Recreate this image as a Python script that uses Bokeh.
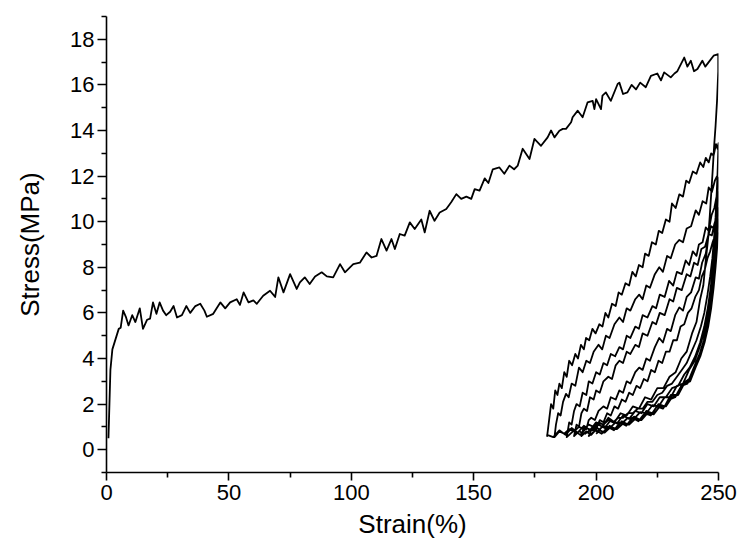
from bokeh.plotting import figure
from bokeh.models import Range1d, FixedTicker
from bokeh.embed import file_html
from bokeh.resources import INLINE

# ---- data (strain %, stress MPa) ----
load_x = [0.8, 1.2, 1.6, 2.4, 3.7, 5.0, 5.8, 6.8, 8.0, 9.0, 10.5, 11.8, 13.6, 14.9, 16.6, 17.8,
          19.0, 20.4, 21.7, 23.1, 24.4, 26.0, 27.4, 28.8, 30.8, 32.6, 34.2, 36.3, 38.3, 40.0,
          41.0, 43.6, 45.0, 46.5, 48.5, 50.5, 53.2, 54.5, 56.0, 58.0, 60.0, 61.4, 64.0, 66.8,
          68.9, 70.2, 72.3, 75.0, 77.7, 79.0, 81.0, 83.0, 85.2, 87.9, 90.0, 92.6, 95.4, 97.4,
          100.8, 103.5, 106.2, 108.3, 110.3, 112.3, 114.4, 116.4, 117.8, 119.8, 121.8, 123.9,
          125.9, 128.6, 130.0, 132.0, 134.0, 136.1, 138.8, 140.8, 142.9, 144.9, 147.0, 149.0,
          150.4, 152.4, 154.5, 156.0, 157.8, 160.5, 162.5, 164.6, 166.5, 168.0, 170.0, 172.8,
          174.8, 177.5, 180.2, 181.6, 183.0, 185.0, 186.4, 187.7, 189.8, 190.4, 192.5, 194.5,
          196.5, 198.6, 199.3, 200.0, 202.0, 202.6, 204.0, 206.0, 208.8, 209.5, 211.0, 212.8,
          214.5, 216.3, 218.0, 220.3, 222.4, 225.0, 226.5, 227.8, 230.5, 232.0, 233.2, 236.0,
          237.3, 238.7, 240.0, 241.4, 243.4, 244.6, 246.0, 248.0, 249.9]
load_y = [0.5, 2.0, 3.5, 4.4, 4.85, 5.3, 5.35, 6.1, 5.8, 5.45, 5.9, 5.6, 6.2, 5.3, 5.7, 5.75,
          6.46, 5.96, 6.46, 6.1, 5.9, 6.05, 6.3, 5.8, 5.9, 6.3, 6.0, 6.3, 6.4, 6.1,
          5.83, 5.96, 6.2, 6.46, 6.2, 6.46, 6.6, 6.35, 6.9, 6.46, 6.55, 6.4, 6.75, 6.97,
          6.7, 7.56, 6.9, 7.7, 7.05, 7.34, 7.56, 7.27, 7.6, 7.78, 7.6, 7.56, 8.14, 7.78,
          8.14, 8.2, 8.65, 8.43, 8.5, 9.24, 8.73, 9.24, 8.8, 9.46, 9.39, 9.97,
          9.68, 10.1, 9.53, 10.48, 10.04, 10.4, 10.56, 10.85, 11.21, 11.0, 11.1, 11.0,
          11.43, 11.36, 11.9, 11.7, 12.3, 12.38, 12.1, 12.46, 12.3, 12.46, 13.2, 12.75,
          13.63, 13.33, 13.7, 14.0, 13.7, 13.99, 14.07, 14.07, 14.36, 14.58, 14.87, 14.58,
          15.23, 15.3, 14.94, 15.38, 14.94, 15.53, 15.67, 15.3, 16.04, 16.1, 15.6, 15.67,
          16.0, 15.8, 16.1, 15.9, 16.4, 16.5, 16.2, 16.55, 16.33, 16.5, 16.6, 17.2,
          16.8, 17.06, 16.6, 16.7, 17.06, 16.8, 17.0, 17.28, 17.35]

u0_x = [249.9, 249.4, 248.8, 248.2, 247.6, 247.0, 246.4, 245.7, 244.8, 243.8, 242.5, 241.0,
        239.2, 237.0, 234.8, 232.5, 230.0, 227.5, 225.0, 222.5, 220.0, 217.5, 215.0, 212.5,
        210.0, 207.5, 205.0, 202.5, 200.0, 197.5, 195.0, 192.5, 190.0, 187.5, 185.0, 182.5, 180.0]
u0_y = [16.6, 15.3, 14.2, 13.3, 12.2, 11.2, 10.2, 9.2, 8.3, 7.2, 6.6, 5.6,
        5.1, 4.3, 4.0, 3.4, 3.2, 2.7, 2.7, 2.2, 2.3, 1.8, 1.9, 1.5,
        1.6, 1.2, 1.4, 1.0, 1.2, 0.85, 1.05, 0.75, 0.95, 0.65, 0.85, 0.55, 0.65]

r1_x = [180.0, 180.8, 181.6, 182.5, 183.3, 184.2, 185.0, 186.0, 187.0, 188.0, 189.0, 190.2,
        191.5, 192.6, 193.8, 195.0, 195.9, 197.2, 198.5, 199.8, 201.3, 202.6, 203.8, 205.0,
        206.5, 208.0, 209.2, 210.5, 212.0, 213.5, 214.8, 216.2, 217.5, 219.0, 220.0, 221.5,
        222.8, 224.4, 225.6, 227.0, 228.5, 230.0, 231.0, 232.5, 234.0, 235.5, 236.8, 238.0,
        239.5, 241.0, 242.5, 243.8, 244.8, 246.0, 247.0, 248.0, 249.0, 249.6, 250.0]
r1_y = [0.6, 1.3, 2.0, 1.8, 2.6, 2.4, 2.9, 2.7, 3.4, 3.2, 3.9, 3.7,
        4.2, 4.0, 4.6, 4.4, 4.9, 4.8, 5.3, 5.1, 5.5, 5.4, 6.0, 5.8,
        6.4, 6.3, 6.9, 6.8, 7.3, 7.2, 7.8, 7.6, 8.1, 8.0, 8.6, 8.5,
        9.1, 9.0, 9.6, 9.5, 10.1, 10.0, 10.8, 10.6, 11.2, 11.1, 11.8, 11.7,
        12.2, 12.1, 12.6, 12.4, 12.8, 12.6, 13.0, 12.9, 13.4, 13.2, 13.45]

u1_x = [249.7, 249.3, 248.8, 248.2, 247.5, 246.6, 245.5, 244.2, 242.8, 241.0, 239.0, 237.0,
        235.0, 233.0, 231.0, 229.0, 227.0, 225.0, 223.0, 221.0, 219.0, 217.0, 215.0, 213.0,
        211.0, 209.0, 207.0, 205.0, 203.0, 201.0, 199.0, 197.0, 195.0, 193.0, 191.0, 189.0,
        187.0, 185.0, 183.0]
u1_y = [12.4, 11.3, 10.2, 9.3, 8.4, 7.6, 6.8, 6.0, 5.4, 4.8, 4.3, 3.8,
        3.5, 3.2, 2.9, 2.8, 2.5, 2.4, 2.1, 2.1, 1.8, 1.8, 1.6, 1.6,
        1.4, 1.4, 1.2, 1.3, 1.1, 1.2, 1.0, 1.1, 0.9, 1.0, 0.8, 0.9,
        0.7, 0.8, 0.55]

r2_x = [183.6, 184.5, 185.5, 186.5, 187.7, 188.8, 190.0, 191.5, 193.0, 194.5, 196.0, 197.5,
        199.0, 201.0, 202.5, 204.0, 205.5, 207.5, 209.5, 211.0, 212.5, 214.0, 216.0, 217.6,
        219.0, 220.5, 222.0, 224.0, 225.8, 227.3, 229.0, 230.5, 232.3, 234.0, 235.5, 237.0,
        238.8, 240.7, 242.0, 243.5, 245.0, 246.0, 247.3, 248.5, 249.4, 250.0]
r2_y = [1.1, 1.6, 1.5, 2.1, 2.45, 2.3, 2.9, 2.8, 3.6, 3.4, 3.9, 3.8,
        4.3, 4.6, 4.4, 5.0, 4.9, 5.5, 5.8, 5.6, 6.2, 6.1, 6.6, 6.8,
        6.6, 7.2, 7.1, 7.7, 8.0, 7.8, 8.5, 8.4, 9.0, 9.2, 9.1, 9.7,
        9.8, 10.5, 10.3, 10.9, 10.8, 11.5, 11.3, 11.8, 12.0, 11.9]

u2_x = [249.6, 249.1, 248.5, 247.7, 246.8, 245.6, 244.2, 242.5, 240.5, 238.2, 236.0, 233.5,
        231.0, 228.5, 226.0, 223.5, 221.0, 218.5, 216.0, 213.5, 211.0, 208.5, 206.0, 203.5,
        201.0, 198.5, 196.0, 193.5, 191.0, 188.0]
u2_y = [11.0, 10.0, 9.0, 8.0, 7.1, 6.2, 5.4, 4.7, 4.1, 3.6, 3.3, 2.8,
        2.7, 2.3, 2.3, 1.9, 2.0, 1.6, 1.7, 1.35, 1.5, 1.15, 1.3, 0.95,
        1.1, 0.85, 0.95, 0.65, 0.85, 0.55]

r3_x = [189.0, 190.0, 191.0, 192.0, 193.3, 194.5, 196.0, 197.0, 198.5, 200.0, 201.5, 203.0,
        204.5, 206.0, 207.8, 209.5, 211.0, 212.5, 214.0, 216.0, 217.5, 219.0, 221.0, 223.0,
        224.5, 226.0, 228.0, 229.8, 231.5, 233.0, 235.0, 236.6, 238.0, 239.5, 241.0, 242.0,
        243.5, 244.8, 246.0, 247.2, 248.3, 249.2, 250.0]
r3_y = [1.2, 1.1, 1.7, 2.0, 1.9, 2.5, 2.4, 3.0, 2.9, 3.4, 3.3, 3.8,
        3.7, 4.2, 4.1, 4.5, 4.4, 5.0, 4.9, 5.4, 5.3, 5.9, 5.8, 6.3,
        6.2, 6.8, 6.7, 7.4, 7.2, 7.8, 7.7, 8.3, 8.1, 8.7, 8.5, 9.0,
        9.1, 9.75, 9.6, 10.3, 10.6, 11.1, 11.3]

u3_x = [249.6, 249.1, 248.4, 247.6, 246.6, 245.4, 244.0, 242.3, 240.3, 238.0, 235.5, 233.0,
        230.5, 228.0, 225.5, 223.0, 220.5, 218.0, 215.5, 213.0, 210.5, 208.0, 205.5, 203.0,
        200.5, 198.0, 195.5, 193.0, 191.0]
u3_y = [10.4, 9.5, 8.5, 7.6, 6.7, 5.9, 5.1, 4.5, 3.9, 3.5, 2.9, 2.8,
        2.3, 2.3, 1.9, 1.95, 1.6, 1.65, 1.35, 1.4, 1.15, 1.2, 0.95, 1.05,
        0.8, 0.9, 0.7, 0.8, 0.6]

r4_x = [192.0, 193.0, 194.0, 195.0, 196.3, 197.5, 199.0, 200.0, 201.5, 203.0, 205.0, 206.5,
        208.0, 209.5, 211.0, 212.5, 214.0, 216.0, 217.5, 219.0, 221.0, 223.0, 224.5, 226.0,
        228.0, 230.0, 231.5, 233.0, 235.0, 237.0, 238.5, 240.0, 241.5, 243.0, 244.5, 245.8,
        247.0, 248.2, 249.2, 250.0]
r4_y = [1.1, 1.0, 1.6, 1.8, 1.7, 2.3, 2.2, 2.6, 2.5, 3.0, 3.2, 3.1,
        3.7, 3.9, 3.8, 4.3, 4.2, 4.6, 4.5, 5.1, 5.0, 5.6, 5.5, 6.0,
        5.9, 6.6, 6.5, 7.1, 7.0, 7.7, 7.6, 8.2, 8.1, 8.8, 8.9, 9.4,
        9.8, 9.7, 10.3, 10.6]

u4_x = [249.6, 249.1, 248.4, 247.6, 246.6, 245.4, 244.0, 242.3, 240.3, 238.0, 235.5, 233.0,
        230.5, 228.0, 225.5, 223.0, 220.5, 218.0, 215.5, 213.0, 210.5, 208.0, 205.5, 203.0,
        200.5, 198.0, 196.0, 194.0]
u4_y = [9.8, 9.0, 8.1, 7.2, 6.3, 5.5, 4.8, 4.2, 3.7, 3.1, 2.9, 2.4,
        2.4, 1.9, 2.0, 1.6, 1.7, 1.3, 1.45, 1.1, 1.25, 0.9, 1.05, 0.75,
        0.95, 0.65, 0.8, 0.6]

r5_x = [195.0, 196.0, 197.0, 198.0, 199.5, 201.0, 203.0, 204.5, 206.0, 208.0, 209.5, 211.0,
        212.5, 214.0, 216.0, 217.6, 219.0, 220.5, 222.0, 224.0, 225.8, 227.3, 229.0, 230.5,
        232.3, 234.0, 235.5, 237.0, 238.8, 240.7, 242.0, 243.3, 244.8, 246.0, 247.3, 248.3,
        249.2, 250.0]
r5_y = [1.0, 0.9, 1.3, 1.4, 1.3, 1.7, 1.9, 1.8, 2.3, 2.2, 2.6, 2.5,
        3.0, 2.9, 3.4, 3.6, 3.5, 4.0, 3.9, 4.5, 4.9, 4.7, 5.3, 5.2,
        5.9, 6.24, 6.1, 6.7, 6.9, 7.56, 7.5, 8.2, 8.6, 9.46, 9.4, 9.9,
        10.2, 10.1]

u5_x = [249.6, 249.0, 248.3, 247.4, 246.3, 245.0, 243.5, 241.7, 239.6, 237.3, 234.8, 232.3,
        229.8, 227.3, 224.8, 222.3, 219.8, 217.3, 214.8, 212.3, 209.8, 207.3, 204.8, 202.3,
        199.8, 197.0]
u5_y = [9.3, 8.5, 7.6, 6.7, 5.9, 5.1, 4.5, 3.9, 3.5, 2.9, 2.8, 2.3,
        2.2, 1.8, 1.9, 1.5, 1.6, 1.25, 1.4, 1.05, 1.2, 0.85, 1.0, 0.7,
        0.85, 0.6]

r6_x = [198.5, 200.0, 201.5, 203.0, 204.5, 206.0, 207.5, 209.0, 210.5, 212.0, 213.5, 215.0,
        216.5, 218.0, 219.5, 221.0, 222.5, 224.0, 225.5, 227.0, 228.5, 230.0, 231.5, 233.0,
        234.5, 236.0, 237.5, 239.0, 240.5, 242.0, 243.2, 244.4, 245.5, 246.6, 247.6, 248.6,
        249.5]
r6_y = [1.0, 0.9, 1.3, 1.2, 1.6, 1.5, 1.9, 1.8, 2.2, 2.1, 2.5, 2.4,
        2.8, 2.7, 3.1, 3.0, 3.5, 3.4, 3.9, 3.8, 4.3, 4.3, 4.8, 4.8,
        5.4, 5.5, 6.0, 6.2, 6.7, 7.0, 7.6, 7.9, 8.4, 8.7, 9.1, 9.4,
        9.8]

u6_x = [249.8, 249.4, 248.8, 248.0, 247.0, 245.8, 244.3, 242.6, 240.6, 238.4, 236.0, 233.5,
        231.0, 228.5, 226.0, 223.5, 221.0, 218.5, 216.0, 213.5, 211.0, 208.5, 206.0, 203.5,
        201.5, 200.0]
u6_y = [9.5, 8.8, 8.0, 7.1, 6.2, 5.4, 4.7, 4.1, 3.6, 3.0, 2.9, 2.4,
        2.3, 1.9, 1.9, 1.55, 1.6, 1.3, 1.35, 1.1, 1.15, 0.9, 1.0, 0.75,
        0.85, 0.7]

x_ticks = [0, 50, 100, 150, 200, 250]
x_minor = [25, 75, 125, 175, 225]
y_ticks = [0, 2, 4, 6, 8, 10, 12, 14, 16, 18]
y_minor = [-1, 1, 3, 5, 7, 9, 11, 13, 15, 17, 19]

segments_x = [load_x, u0_x, r1_x, u1_x, r2_x, u2_x, r3_x, u3_x, r4_x, u4_x, r5_x, u5_x, r6_x, u6_x]
segments_y = [load_y, u0_y, r1_y, u1_y, r2_y, u2_y, r3_y, u3_y, r4_y, u4_y, r5_y, u5_y, r6_y, u6_y]
xs = [v for seg in segments_x for v in seg]
ys = [v for seg in segments_y for v in seg]

p = figure(width=738, height=543, output_backend="svg", toolbar_location=None,
           x_range=Range1d(0, 250), y_range=Range1d(-1, 19),
           min_border_left=106, min_border_right=20, min_border_top=16, min_border_bottom=71)
p.outline_line_color = None
p.xgrid.visible = False
p.ygrid.visible = False
p.background_fill_color = "white"
p.border_fill_color = "white"

p.line(xs, ys, line_color="black", line_width=1.8, line_join="round")

p.xaxis.ticker = FixedTicker(ticks=x_ticks, minor_ticks=x_minor)
p.yaxis.ticker = FixedTicker(ticks=y_ticks, minor_ticks=y_minor)
p.xaxis.axis_label = "Strain(%)"
p.yaxis.axis_label = "Stress(MPa)"

for ax in (p.xaxis, p.yaxis):
    ax.axis_line_color = "black"
    ax.axis_line_width = 1.6
    ax.major_tick_line_color = "black"
    ax.major_tick_line_width = 1.6
    ax.minor_tick_line_color = "black"
    ax.minor_tick_line_width = 1.6
    ax.major_tick_in = 0
    ax.minor_tick_in = 0
    ax.major_label_text_font = "Liberation Sans"
    ax.major_label_text_font_size = "22px"
    ax.major_label_text_color = "black"
    ax.axis_label_text_font = "Liberation Sans"
    ax.axis_label_text_font_size = "26px"
    ax.axis_label_text_font_style = "normal"
    ax.axis_label_text_color = "black"

p.xaxis.major_tick_out = 8
p.xaxis.minor_tick_out = 5
p.yaxis.major_tick_out = 9
p.yaxis.minor_tick_out = 5
p.xaxis.major_label_standoff = 4
p.yaxis.major_label_standoff = 3
p.xaxis.axis_label_standoff = 6
p.yaxis.axis_label_standoff = 22

open("out.html", "w").write(file_html(p, INLINE))
